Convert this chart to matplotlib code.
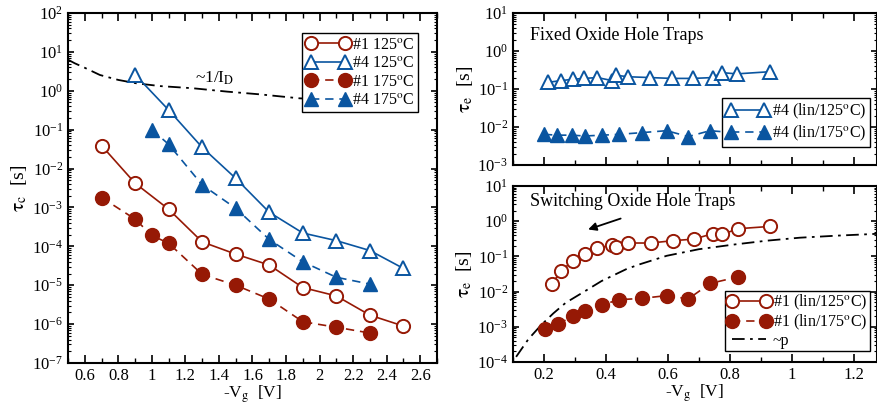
import numpy as np
import matplotlib
matplotlib.use('Agg')
import matplotlib.pyplot as plt
from matplotlib.ticker import LogLocator, MultipleLocator, NullFormatter

plt.rcParams['font.family'] = ['Liberation Serif', 'DejaVu Serif']
plt.rcParams['mathtext.fontset'] = 'stix'

# left panel: capture time vs gate voltage
vg = [0.7, 0.9, 1.1, 1.3, 1.5, 1.7, 1.9, 2.1, 2.3, 2.5]
tc_1_125 = [3.9e-2, 4.2e-3, 9.0e-4, 1.3e-4, 6.3e-5, 3.3e-5, 8.7e-6, 5.3e-6, 1.7e-6, 8.9e-7]
vg_4_125 = [0.9, 1.1, 1.3, 1.5, 1.7, 1.9, 2.1, 2.3, 2.5]
tc_4_125 = [2.6, 0.32, 3.5e-2, 5.6e-3, 7.5e-4, 2.2e-4, 1.4e-4, 7.8e-5, 2.7e-5]
vg_1_175 = [0.7, 0.9, 1.0, 1.1, 1.3, 1.5, 1.7, 1.9, 2.1, 2.3]
tc_1_175 = [1.8e-3, 5.0e-4, 1.9e-4, 1.2e-4, 1.9e-5, 1.0e-5, 4.4e-6, 1.15e-6, 8.3e-7, 5.9e-7]
vg_4_175 = [1.0, 1.1, 1.3, 1.5, 1.7, 1.9, 2.1, 2.3]
tc_4_175 = [0.1, 4.2e-2, 3.8e-3, 9.5e-4, 1.5e-4, 4.0e-5, 1.6e-5, 1.07e-5]
vg_id = [0.5, 0.54, 0.6, 0.69, 0.8, 0.91, 1.05, 1.246, 1.45, 1.643, 1.88, 2.2]
tc_id = [6.3, 5.1, 3.9, 2.55, 1.9, 1.55, 1.32, 1.16, 0.95, 0.81, 0.64, 0.55]

# top right: fixed oxide hole traps
vg_fix_125 = [0.214, 0.254, 0.293, 0.330, 0.372, 0.421, 0.432, 0.472, 0.542, 0.612,
              0.682, 0.745, 0.774, 0.822, 0.929]
te_fix_125 = [0.15, 0.166, 0.18, 0.19, 0.2, 0.166, 0.23, 0.21, 0.2, 0.19,
              0.19, 0.2, 0.27, 0.25, 0.285]
vg_fix_175 = [0.2, 0.243, 0.289, 0.332, 0.388, 0.442, 0.515, 0.596, 0.666, 0.736, 0.82]
te_fix_175 = [6.4e-3, 6.1e-3, 6.1e-3, 5.8e-3, 6.1e-3, 6.4e-3, 7.1e-3, 8.0e-3, 5.6e-3, 8.0e-3, 7.0e-3]

# bottom right: switching oxide hole traps
vg_sw_125 = [0.225, 0.254, 0.293, 0.332, 0.372, 0.418, 0.434, 0.472, 0.544, 0.617,
             0.684, 0.744, 0.776, 0.825, 0.929]
te_sw_125 = [0.016, 0.038, 0.074, 0.114, 0.17, 0.21, 0.19, 0.24, 0.24, 0.28,
             0.31, 0.44, 0.42, 0.61, 0.71]
vg_sw_175 = [0.203, 0.246, 0.293, 0.332, 0.388, 0.442, 0.515, 0.596, 0.666, 0.736, 0.825]
te_sw_175 = [8.6e-4, 1.2e-3, 2.0e-3, 2.9e-3, 4.2e-3, 5.9e-3, 6.4e-3, 7.7e-3, 6.2e-3, 1.7e-2, 2.6e-2]
vg_p = [0.11, 0.15, 0.19, 0.23, 0.27, 0.33, 0.386, 0.467, 0.51, 0.596, 0.7, 0.811,
        0.92, 1.026, 1.15, 1.28]
te_p = [1.4e-4, 4.5e-4, 1.1e-3, 2.4e-3, 4.8e-3, 1.0e-2, 2.0e-2, 4.4e-2, 6.0e-2, 0.104,
        0.16, 0.216, 0.28, 0.34, 0.39, 0.44]

red = '#961905'
blue = '#0a55a0'
dash = (0, (5, 3.5))
dashdot = (0, (7, 3, 1.5, 3))

W, H = 878, 408
fig = plt.figure(figsize=(W / 100, H / 100), dpi=100)


def px_axes(x0, y0, x1, y1):
    return fig.add_axes([x0 / W, 1 - y1 / H, (x1 - x0) / W, (y1 - y0) / H])


def style_axes(ax):
    ax.set_yscale('log')
    for s in ax.spines.values():
        s.set_linewidth(1.5)
    ax.yaxis.set_major_locator(LogLocator(base=10, numticks=20))
    ax.yaxis.set_minor_locator(LogLocator(base=10, subs=np.arange(2, 10), numticks=20))
    ax.yaxis.set_minor_formatter(NullFormatter())
    ax.tick_params(which='both', direction='in', top=True, right=True, labelsize=12)
    ax.tick_params(axis='x', which='major', length=6, width=1.2)
    ax.tick_params(axis='x', which='minor', length=3.5, width=1.0)
    ax.tick_params(axis='y', which='major', length=4.5, width=1.2)
    ax.tick_params(axis='y', which='minor', length=2.3, width=0.8)


leg_kw = dict(fontsize=11.5, numpoints=2, fancybox=False, edgecolor='black', framealpha=1,
              borderaxespad=0, handlelength=2.7, handletextpad=0.15, labelspacing=0.15,
              borderpad=0.25)

# ---- left panel
ax = px_axes(68, 13, 437, 363)
style_axes(ax)
ax.plot(vg_id, tc_id, color='black', lw=1.3, ls=dashdot, zorder=1)
ax.plot(vg, tc_1_125, color=red, lw=1.2, marker='o', ms=9.5, mfc='white', mew=1.4,
        label=r'#1 125$^{\rm o}$C')
ax.plot(vg_4_125, tc_4_125, color=blue, lw=1.2, marker='^', ms=10, mfc='white', mew=1.4,
        label=r'#4 125$^{\rm o}$C')
ax.plot(vg_1_175, tc_1_175, color=red, lw=1.2, ls=dash, marker='o', ms=10,
        label=r'#1 175$^{\rm o}$C')
ax.plot(vg_4_175, tc_4_175, color=blue, lw=1.2, ls=dash, marker='^', ms=10,
        label=r'#4 175$^{\rm o}$C')
ax.text(1.26, 2.1, r'~1/I$_\mathrm{D}$', fontsize=12.5, va='center', ha='left')
ax.set_xlim(0.5, 2.7)
ax.set_ylim(1e-7, 1e2)
ax.xaxis.set_minor_locator(MultipleLocator(0.1))
ax.set_xticks([0.6, 0.8, 1.0, 1.2, 1.4, 1.6, 1.8, 2.0, 2.2, 2.4, 2.6])
ax.set_xticklabels(['0.6', '0.8', '1', '1.2', '1.4', '1.6', '1.8', '2', '2.2', '2.4', '2.6'])
ax.set_xlabel(r'-V$_\mathrm{g}$  [V]', fontsize=12.5, labelpad=0)
ax.set_ylabel(r'$\mathrm{\tau_c}$  [s]', fontsize=14, labelpad=2)
ax.legend(loc='upper right', bbox_to_anchor=(0.9485, 0.943), **leg_kw)

xt = [0.2, 0.4, 0.6, 0.8, 1.0, 1.2]
xtl = ['0.2', '0.4', '0.6', '0.8', '1', '1.2']

# ---- top right panel
ax1 = px_axes(513, 13, 877, 165)
style_axes(ax1)
ax1.plot(vg_fix_125, te_fix_125, color=blue, lw=1.2, marker='^', ms=10, mfc='white', mew=1.4,
         label=r'#4 (lin/125$^{\rm o}$C)')
ax1.plot(vg_fix_175, te_fix_175, color=blue, lw=1.2, ls=dash, marker='^', ms=10,
         label=r'#4 (lin/175$^{\rm o}$C)')
ax1.text(0.047, 0.855, 'Fixed Oxide Hole Traps', transform=ax1.transAxes, fontsize=13,
         va='center', ha='left')
ax1.set_xlim(0.1, 1.275)
ax1.set_ylim(1e-3, 1e1)
ax1.set_xticks(xt)
ax1.xaxis.set_minor_locator(MultipleLocator(0.1))
ax1.tick_params(axis='x', labelbottom=False)
ax1.set_ylabel(r'$\mathrm{\tau_e}$  [s]', fontsize=14, labelpad=2)
ax1.legend(loc='lower right', bbox_to_anchor=(0.981, 0.12), **leg_kw)

# ---- bottom right panel
ax2 = px_axes(513, 186, 877, 362)
style_axes(ax2)
ax2.plot(vg_p, te_p, color='black', lw=1.3, ls=dashdot, zorder=1, label='~p')
ax2.plot(vg_sw_125, te_sw_125, color=red, lw=1.2, marker='o', ms=9.5, mfc='white', mew=1.4,
         label=r'#1 (lin/125$^{\rm o}$C)')
ax2.plot(vg_sw_175, te_sw_175, color=red, lw=1.2, ls=dash, marker='o', ms=10,
         label=r'#1 (lin/175$^{\rm o}$C)')
ax2.text(0.047, 0.911, 'Switching Oxide Hole Traps', transform=ax2.transAxes, fontsize=13,
         va='center', ha='left')
ax2.annotate('', xy=(0.334, 0.55), xytext=(0.456, 1.26),
             arrowprops=dict(arrowstyle='-|>', color='black', lw=1.3, mutation_scale=12))
ax2.set_xlim(0.1, 1.275)
ax2.set_ylim(1e-4, 1e1)
ax2.set_xticks(xt)
ax2.set_xticklabels(xtl)
ax2.xaxis.set_minor_locator(MultipleLocator(0.1))
ax2.set_xlabel(r'-V$_\mathrm{g}$  [V]', fontsize=12.5, labelpad=0)
ax2.set_ylabel(r'$\mathrm{\tau_e}$  [s]', fontsize=14, labelpad=2)
h, l = ax2.get_legend_handles_labels()
kw2 = dict(leg_kw, labelspacing=0.05, borderpad=0.15)
ax2.legend([h[1], h[2], h[0]], [l[1], l[2], l[0]], loc='lower right',
           bbox_to_anchor=(0.98, 0.06), **kw2)

plt.savefig('out.png', dpi=100)
